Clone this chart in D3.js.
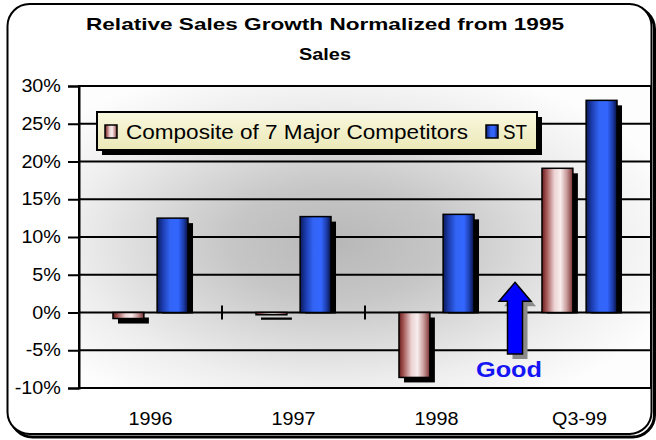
<!DOCTYPE html>
<html><head><meta charset="utf-8">
<script src="https://cdn.jsdelivr.net/npm/d3@7"></script>
<style>html,body{margin:0;padding:0;background:#fff}svg{display:block}text{font-family:"Liberation Sans",Arial,sans-serif}</style>
</head><body>
<script>
const categories = ["1996","1997","1998","Q3-99"];
const seriesNames = ["Composite of 7 Major Competitors","ST"];
const composite = [-0.8, -0.3, -8.6, 19.1];
const st = [12.5, 12.7, 13.0, 28.1];
const yTicks = [-10,-5,0,5,10,15,20,25,30];
const titleLines = ["Relative Sales Growth Normalized from 1995","Sales"];
const annotation = {text:"Good", from:-5.5, to:4};

const W=656,H=440;
const svg=d3.select("body").append("svg").attr("width",W).attr("height",H);
const defs=svg.append("defs");

function hgrad(id,stops){const g=defs.append("linearGradient").attr("id",id).attr("x1","0").attr("x2","1").attr("y1","0").attr("y2","0");
 stops.forEach(s=>g.append("stop").attr("offset",s[0]).attr("stop-color",s[1]));}
hgrad("gComp",[[0,"#6b1a1a"],[0.15,"#a45858"],[0.4,"#ecd2d2"],[0.6,"#f8eded"],[0.8,"#c89a9a"],[1,"#7a3030"]]);
hgrad("gST",[[0,"#0a1a5a"],[0.18,"#1c3cae"],[0.42,"#3264f4"],[0.68,"#3366ff"],[0.86,"#1c3ca8"],[1,"#081040"]]);
const rg=defs.append("radialGradient").attr("id","gBg").attr("cx","0.45").attr("cy","0.52").attr("r","0.62");
[[0,"#b8b8b8"],[0.3,"#c6c6c6"],[0.75,"#eeeeee"],[1,"#fdfdfd"]].forEach(s=>rg.append("stop").attr("offset",s[0]).attr("stop-color",s[1]));
const lg=defs.append("linearGradient").attr("id","gLeg").attr("x1","0").attr("x2","0").attr("y1","0").attr("y2","1");
[[0,"#f9f8de"],[1,"#ebe8b8"]].forEach(s=>lg.append("stop").attr("offset",s[0]).attr("stop-color",s[1]));

// outer frame
svg.append("rect").attr("x",10.5).attr("y",7).attr("width",644).attr("height",430).attr("rx",22)
 .attr("fill","none").attr("stroke","#000").attr("stroke-width",3);
svg.append("rect").attr("x",7.5).attr("y",4).attr("width",644).attr("height",430).attr("rx",22)
 .attr("fill","#fff").attr("stroke","#000").attr("stroke-width",2);

// title
const tl=[[30,478],[60,52]];
titleLines.forEach((t,i)=>svg.append("text").attr("x",325).attr("y",tl[i][0]).attr("text-anchor","middle")
 .attr("font-size",17).attr("font-weight","bold").attr("textLength",tl[i][1]).attr("lengthAdjust","spacingAndGlyphs").text(t));

const L=79,R=651,T=86,B=388;
const x0=d3.scaleBand().domain(categories).range([L,R]);
const x1=d3.scaleBand().domain(seriesNames).range([0,x0.bandwidth()]).paddingInner(0.3).paddingOuter(0.77);
const y=d3.scaleLinear().domain([-10,30]).range([B,T]);

svg.append("rect").attr("x",L).attr("y",T).attr("width",R-L).attr("height",B-T).attr("fill","url(#gBg)");

// grid
svg.append("g").selectAll("line").data(yTicks).join("line")
 .attr("x1",L).attr("x2",R).attr("y1",d=>y(d)).attr("y2",d=>y(d)).attr("stroke","#000").attr("stroke-width",2);
svg.append("rect").attr("x",L).attr("y",T).attr("width",R-L).attr("height",B-T).attr("fill","none").attr("stroke","#000").attr("stroke-width",2);

// y axis
const ya=svg.append("g").attr("transform",`translate(${L},0)`)
 .call(d3.axisLeft(y).tickValues(yTicks).tickFormat(d=>d+"%").tickSize(11).tickPadding(5));
ya.select(".domain").attr("stroke","#000").attr("stroke-width",2);
ya.selectAll(".tick line").attr("stroke","#000").attr("stroke-width",2);
ya.selectAll("text").attr("font-size",17.5).attr("fill","#000").attr("transform","scale(1.13,1)").style("font-family",'"Liberation Sans",Arial,sans-serif');

// x axis labels
const xa=svg.append("g").attr("transform",`translate(0,${B})`)
 .call(d3.axisBottom(x0).tickSize(0).tickPadding(25));
xa.select(".domain").remove();
xa.selectAll("text").attr("font-size",17.5).attr("fill","#000").attr("transform","scale(1.13,1)")
 .attr("x",function(d){return (x0(d)+x0.bandwidth()/2)*(1/1.13-1)*0;})
 .style("font-family",'"Liberation Sans",Arial,sans-serif');
// fix scaling of position: translate applied on tick group, text scaled around own origin (x=0) -> ok

// category ticks across zero line
svg.append("g").selectAll("line").data(categories).join("line")
 .attr("x1",d=>x0(d)+x0.bandwidth()).attr("x2",d=>x0(d)+x0.bandwidth())
 .attr("y1",y(0)-7).attr("y2",y(0)+7).attr("stroke","#000").attr("stroke-width",2);

// bars
const rows=[];
categories.forEach((c,i)=>{rows.push({c,s:seriesNames[0],v:composite[i],f:"url(#gComp)"});rows.push({c,s:seriesNames[1],v:st[i],f:"url(#gST)"});});
const bx=d=>x0(d.c)+x1(d.s), bw=x1.bandwidth();
const z=y(0);
svg.append("g").selectAll("rect").data(rows).join("rect")
 .attr("x",d=>bx(d)+5).attr("width",bw)
 .attr("y",d=>d.v>=0?y(d.v)+5:z+5)
 .attr("height",d=>d.v>=0?Math.max(0,z-y(d.v)-4):y(d.v)-z)
 .attr("fill","#000");
svg.append("g").selectAll("rect").data(rows).join("rect")
 .attr("x",bx).attr("width",bw)
 .attr("y",d=>Math.min(y(d.v),z)).attr("height",d=>Math.abs(y(d.v)-z))
 .attr("fill",d=>d.f).attr("stroke","#000").attr("stroke-width",1.5);

// arrow annotation
const ax=x0("Q3-99")+7;
const tip=y(annotation.to), hb=tip+19, bot=y(annotation.from);
const pts=[[ax,tip],[ax+16,hb],[ax+7.5,hb],[ax+7.5,bot],[ax-7.5,bot],[ax-7.5,hb],[ax-16,hb]];
svg.append("polygon").attr("points",pts.map(p=>[p[0]+5,p[1]+5].join(",")).join(" ")).attr("fill","#8a8a8a");
svg.append("polygon").attr("points",pts.map(p=>p.join(",")).join(" ")).attr("fill","#0000ff").attr("stroke","#000").attr("stroke-width",1.5);
svg.append("text").attr("x",ax-6).attr("y",y(-8.6)).attr("text-anchor","middle").attr("font-size",22).attr("font-weight","bold")
 .attr("fill","#1414f5").attr("textLength",66).attr("lengthAdjust","spacingAndGlyphs").text(annotation.text);

// legend
const lgx=97,lgy=112,lgw=440,lgh=38;
svg.append("rect").attr("x",lgx+5).attr("y",lgy+5).attr("width",lgw).attr("height",lgh).attr("fill","#000");
svg.append("rect").attr("x",lgx).attr("y",lgy).attr("width",lgw).attr("height",lgh).attr("fill","url(#gLeg)").attr("stroke","#000").attr("stroke-width",2);
const legItems=[{n:seriesNames[0],f:"url(#gComp)",sx:105,tx:126,tl:342},{n:seriesNames[1],f:"url(#gST)",sx:486,tx:503,tl:24}];
legItems.forEach(it=>{
 svg.append("rect").attr("x",it.sx).attr("y",125).attr("width",12).attr("height",13).attr("fill",it.f).attr("stroke","#000").attr("stroke-width",1.5);
 svg.append("text").attr("x",it.tx).attr("y",139).attr("font-size",19.5).attr("textLength",it.tl).attr("lengthAdjust","spacingAndGlyphs").text(it.n);
});
</script>
</body></html>
